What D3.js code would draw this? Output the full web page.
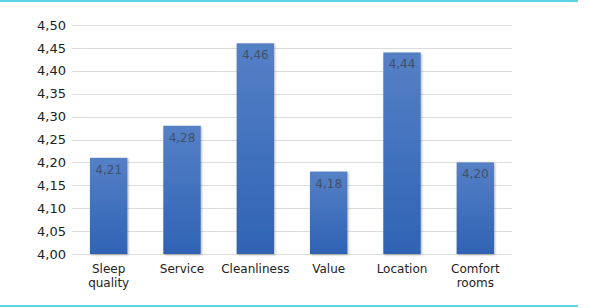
<!DOCTYPE html>
<html>
<head>
<meta charset="utf-8">
<script src="https://cdn.jsdelivr.net/npm/d3@7"></script>
<style>
  body { margin: 0; background: #fff; }
  text { font-family: "DejaVu Sans", sans-serif; }
</style>
</head>
<body>
<div id="chart"></div>
<script>
// data
var categories = ["Sleep quality", "Service", "Cleanliness", "Value", "Location", "Comfort rooms"];
var scores = [4.21, 4.28, 4.46, 4.18, 4.44, 4.20];
var yTicks = [4.00, 4.05, 4.10, 4.15, 4.20, 4.25, 4.30, 4.35, 4.40, 4.45, 4.50];

var W = 589, H = 308;
var margin = {top: 25, left: 72, right: 77, bottom: 54};
var width = W - margin.left - margin.right,
    height = H - margin.top - margin.bottom;

var fmt = function(v) { return d3.format(".2f")(v).replace(".", ","); };

var svg = d3.select("#chart").append("svg")
    .attr("width", W)
    .attr("height", H);

// cyan frame lines top & bottom
svg.append("line").attr("x1", 0).attr("x2", 578).attr("y1", 1).attr("y2", 1)
    .attr("stroke", "#5fd3e6").attr("stroke-width", 2);
svg.append("line").attr("x1", 0).attr("x2", 578).attr("y1", 306).attr("y2", 306)
    .attr("stroke", "#5fd3e6").attr("stroke-width", 2);

var defs = svg.append("defs");
var grad = defs.append("linearGradient").attr("id", "barGrad")
    .attr("x1", 0).attr("x2", 0).attr("y1", 0).attr("y2", 1);
grad.append("stop").attr("offset", "0%").attr("stop-color", "#5580c6");
grad.append("stop").attr("offset", "100%").attr("stop-color", "#2f63b4");

var shadow = defs.append("filter").attr("id", "shadow")
    .attr("x", "-20%").attr("y", "-5%").attr("width", "140%").attr("height", "115%");
shadow.append("feDropShadow").attr("dx", 1).attr("dy", 1).attr("stdDeviation", 1)
    .attr("flood-color", "#000").attr("flood-opacity", 0.3);

var g = svg.append("g")
    .attr("transform", "translate(" + margin.left + "," + margin.top + ")");

var x = d3.scaleBand().domain(categories).range([0, width]).paddingInner(0.49).paddingOuter(0.245);
var y = d3.scaleLinear().domain([4.0, 4.5]).range([height, 0]);

// gridlines
g.selectAll("line.grid")
    .data(yTicks)
    .enter().append("line")
    .attr("class", "grid")
    .attr("x1", 0).attr("x2", width)
    .attr("y1", function(d) { return Math.round(y(d)) + 0.5; })
    .attr("y2", function(d) { return Math.round(y(d)) + 0.5; })
    .attr("stroke", "#dcdcdc").attr("stroke-width", 1);

// y axis labels
var yAxis = d3.axisLeft(y).tickValues(yTicks).tickFormat(fmt).tickSize(0).tickPadding(6);
var ya = g.append("g").call(yAxis);
ya.select(".domain").remove();
ya.selectAll("text").attr("font-size", 13).attr("fill", "#222")
    .style("font-family", "DejaVu Sans, sans-serif");

// bars
g.selectAll("rect.bar")
    .data(scores)
    .enter().append("rect")
    .attr("class", "bar")
    .attr("x", function(d, i) { return x(categories[i]); })
    .attr("y", function(d) { return y(d); })
    .attr("width", x.bandwidth())
    .attr("height", function(d) { return height - y(d); })
    .attr("fill", "url(#barGrad)")
    .attr("filter", "url(#shadow)");

// value labels inside bar top
g.selectAll("text.val")
    .data(scores)
    .enter().append("text")
    .attr("class", "val")
    .attr("x", function(d, i) { return x(categories[i]) + x.bandwidth() / 2; })
    .attr("y", function(d) { return y(d) + 16; })
    .attr("text-anchor", "middle")
    .attr("font-size", 12)
    .attr("fill", "#40506a")
    .text(fmt);

// category labels (wrap to two lines)
var xl = g.selectAll("text.cat")
    .data(categories)
    .enter().append("text")
    .attr("class", "cat")
    .attr("text-anchor", "middle")
    .attr("font-size", 12)
    .attr("fill", "#222")
    .attr("transform", function(d) { return "translate(" + (x(d) + x.bandwidth() / 2) + "," + (height + 19) + ")"; });

xl.each(function(d) {
    var words = d.split(" ");
    var t = d3.select(this);
    words.forEach(function(w, k) {
        t.append("tspan").attr("x", 0).attr("dy", k === 0 ? 0 : 14).text(w);
    });
});
</script>
</body>
</html>
